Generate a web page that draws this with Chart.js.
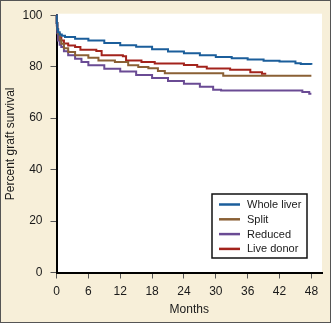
<!DOCTYPE html>
<html>
<head>
<meta charset="utf-8">
<script src="https://cdn.jsdelivr.net/npm/chart.js@4/dist/chart.umd.min.js"></script>
<style>
    body { margin: 0; background: #f7efd9; }
    canvas { display: block; }
</style>
</head>
<body>
<canvas id="survival-chart" width="331" height="323"></canvas>
<script>
// Graft survival (months / percent)
const seriesNames = ["Whole liver", "Split", "Reduced", "Live donor"];
const seriesColors = ["#1b5e9b", "#8a6035", "#6a4b94", "#a3231c"];

const wholeMonths = [0, 0.05, 0.15, 0.3, 0.6, 1, 1.6, 3.5, 6, 9, 12, 15, 18, 21, 24, 27, 30, 33, 36, 39, 42, 45, 46, 48];
const wholeSurvival = [100, 97, 94.5, 93.4, 92.5, 92, 91.5, 90.8, 90.2, 89.2, 88.3, 87.7, 86.8, 85.9, 85.2, 84.4, 83.8, 83.3, 82.8, 82.3, 82.0, 81.3, 81.0, 80.7];

const splitMonths = [0, 0.05, 0.15, 0.3, 0.6, 0.9, 1.4, 2.2, 3.5, 6, 7.9, 11, 13.5, 15.4, 17.3, 19.1, 20.4, 31.4, 48];
const splitSurvival = [100, 97, 94.5, 92.8, 90.5, 88.9, 87.2, 85.7, 84.4, 83.5, 82.4, 81.8, 80.5, 79.9, 79.4, 78.3, 77.4, 76.5, 76.5];

const reducedMonths = [0, 0.05, 0.15, 0.3, 0.6, 0.9, 1.4, 2.2, 3.5, 4.7, 6, 9, 12, 15, 18, 21, 24, 27, 29.5, 31, 46.3, 47.6, 48];
const reducedSurvival = [100, 96, 93, 90.2, 88.5, 87.6, 86, 84.4, 83.1, 81.8, 80.5, 79.2, 78.1, 76.8, 75.6, 74.4, 73.4, 72.2, 71.0, 70.7, 70.2, 69.5, 69.5];

const liveMonths = [0, 0.05, 0.15, 0.3, 0.6, 0.9, 1.4, 2.2, 3.5, 4.5, 7.5, 8.5, 12.5, 13.1, 16, 18.5, 24, 26.5, 28.3, 32.7, 36.5, 38.7, 39.5];
const liveSurvival = [100, 97, 94.5, 92.8, 91.3, 90.2, 89, 88.2, 87.6, 86.6, 86.1, 84.4, 84.0, 82.4, 81.8, 81.2, 80.6, 80.0, 79.3, 78.8, 77.8, 77.2, 77.2];

const xTicks = [0, 6, 12, 18, 24, 30, 36, 42, 48];
const yTicks = [0, 20, 40, 60, 80, 100];

const monthLists = [wholeMonths, splitMonths, reducedMonths, liveMonths];
const survivalLists = [wholeSurvival, splitSurvival, reducedSurvival, liveSurvival];

function toPoints(months, values) {
    return months.map((m, i) => ({ x: m, y: values[i] }));
}

const datasets = seriesNames.map((name, i) => ({
    label: name,
    data: toPoints(monthLists[i], survivalLists[i]),
    borderColor: seriesColors[i],
    borderWidth: 2,
    pointRadius: 0,
    stepped: true,
    fill: false,
    clip: 4,
}));

// cream page, white plot area, thin outer frame
const background = {
    id: "background",
    beforeDraw(chart) {
        const ctx = chart.ctx;
        const area = chart.chartArea;
        ctx.save();
        ctx.fillStyle = "#f7efd9";
        ctx.fillRect(0, 0, chart.width, chart.height);
        ctx.fillStyle = "#ffffff";
        ctx.fillRect(area.left, area.top - 1.5, area.right - area.left, area.bottom - area.top + 1.5);
        ctx.strokeStyle = "#555555";
        ctx.lineWidth = 1;
        ctx.strokeRect(0.5, 0.5, chart.width - 1, chart.height - 1);
        ctx.restore();
    },
};

// boxed legend in the lower right of the plot
const boxLegend = {
    id: "boxLegend",
    afterDraw(chart) {
        const ctx = chart.ctx;
        const left = 212, top = 194, width = 95, height = 64;
        ctx.save();
        ctx.fillStyle = "#ffffff";
        ctx.fillRect(left, top, width, height);
        ctx.strokeStyle = "#111111";
        ctx.lineWidth = 1.5;
        ctx.strokeRect(left, top, width, height);
        ctx.font = "11px 'Liberation Sans', Arial, sans-serif";
        ctx.textBaseline = "middle";
        chart.data.datasets.forEach((ds, i) => {
            const y = top + 10.5 + i * 14.8;
            ctx.strokeStyle = ds.borderColor;
            ctx.lineWidth = 2.5;
            ctx.beginPath();
            ctx.moveTo(left + 7, y);
            ctx.lineTo(left + 28, y);
            ctx.stroke();
            ctx.fillStyle = "#1a1a1a";
            ctx.fillText(ds.label, left + 35, y + 0.5);
        });
        ctx.restore();
    },
};

new Chart(document.getElementById("survival-chart"), {
    type: "line",
    data: { datasets: datasets },
    plugins: [background, boxLegend],
    options: {
        responsive: false,
        animation: false,
        layout: { padding: { left: 0, right: 9, top: 13, bottom: 0 } },
        plugins: {
            legend: { display: false },
            tooltip: { enabled: false },
        },
        scales: {
            x: {
                type: "linear",
                min: 0,
                max: 50,
                afterBuildTicks: (scale) => {
                    scale.ticks = xTicks.map((v) => ({ value: v }));
                },
                afterFit: (scale) => {
                    scale.height = 50.5;
                },
                grid: {
                    drawOnChartArea: false,
                    drawTicks: true,
                    tickLength: 6,
                    tickColor: "#555555",
                },
                border: { display: true, color: "#000000", width: 2 },
                ticks: {
                    color: "#1a1a1a",
                    padding: 6,
                    maxRotation: 0,
                    font: { family: "'Liberation Sans', Arial, sans-serif", size: 12 },
                },
                title: {
                    display: true,
                    text: "Months",
                    color: "#1a1a1a",
                    padding: { top: 4, bottom: 6 },
                    font: { family: "'Liberation Sans', Arial, sans-serif", size: 12 },
                },
            },
            y: {
                min: 0,
                max: 100,
                afterBuildTicks: (scale) => {
                    scale.ticks = yTicks.map((v) => ({ value: v }));
                },
                afterFit: (scale) => {
                    scale.width = 56.5;
                },
                grid: {
                    drawOnChartArea: false,
                    drawTicks: true,
                    tickLength: 6,
                    tickColor: "#555555",
                },
                border: { display: true, color: "#000000", width: 2 },
                ticks: {
                    color: "#1a1a1a",
                    padding: 8,
                    font: { family: "'Liberation Sans', Arial, sans-serif", size: 12 },
                },
                title: {
                    display: true,
                    text: "Percent graft survival",
                    color: "#1a1a1a",
                    padding: { top: 3, bottom: 0 },
                    font: { family: "'Liberation Sans', Arial, sans-serif", size: 12 },
                },
            },
        },
    },
});
</script>
</body>
</html>
